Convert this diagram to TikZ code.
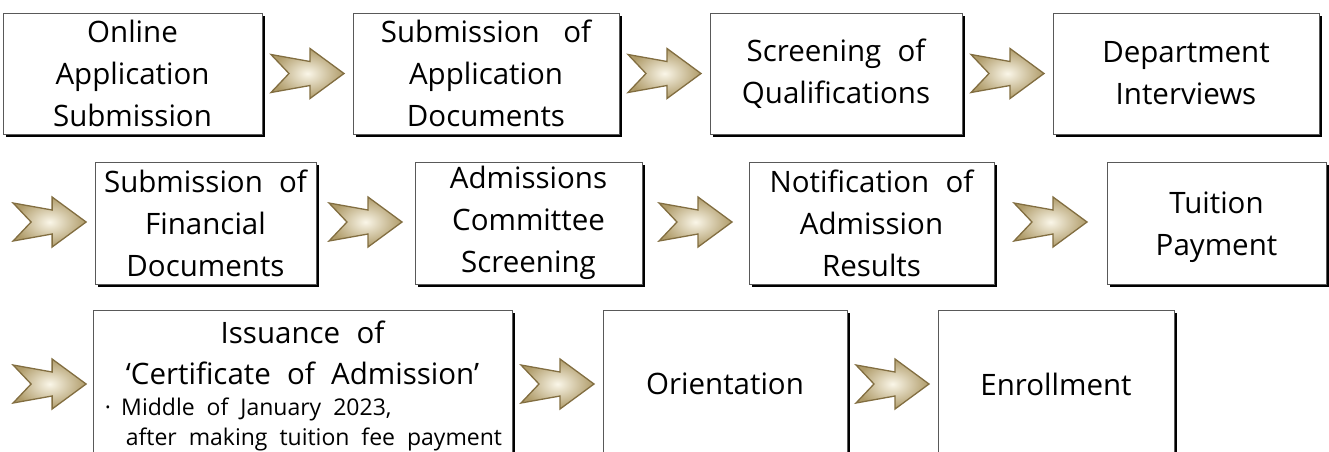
\documentclass[tikz,border=0pt]{standalone}
\usepackage{fontspec}
\setmainfont{Open Sans}
\usetikzlibrary{calc,shadows}
\newcommand{\bigtxt}{\fontsize{29.5}{42}\selectfont\spaceskip=0.55em plus 0.1em\relax}
\newcommand{\smalltxt}{\fontsize{23}{21}\selectfont\spaceskip=0.52em\relax}
\definecolor{arrowedge}{RGB}{130,110,65}
\definecolor{arrowin}{RGB}{250,246,232}
\definecolor{arrowout}{RGB}{175,155,105}
\tikzset{
  x=1pt, y=-1pt,
  stepbox/.style={draw=black!65, line width=0.8pt, fill=white, inner sep=0pt,
    align=center, font=\bigtxt,
    general shadow={fill=black, shadow xshift=2.6pt, shadow yshift=-2.6pt}},
  boxtext/.style={font=\bigtxt, align=center, inner sep=0pt},
  blockarrow/.pic={
    \path[draw=arrowedge, line width=1.3pt, line join=miter,
      inner color=arrowin, outer color=arrowout]
      (-36.5,-19) -- (2.5,-12) -- (2.5,-25) -- (36.5,0) -- (2.5,25)
      -- (2.5,12) -- (-36.5,19) -- (-18.5,0) -- cycle;
  }
}
\begin{document}
\begin{tikzpicture}
\useasboundingbox (0,0) rectangle (1329,451);
\clip (0,0) rectangle (1329,451);
% row 1
\node[stepbox, minimum width=259, minimum height=121] (b1) at (132.5,73.5) {Online\\Application\\Submission};
\node[stepbox, minimum width=266, minimum height=121] (b2) at (486,73.5) {Submission\hspace{0.25em} of\\Application\\Documents};
\node[stepbox, minimum width=252, minimum height=121] (b3) at (836,73.5) {Screening of\\Qualifications};
\node[stepbox, minimum width=266, minimum height=121] (b4) at (1186,73.5) {Department\\Interviews};
% row 2
\node[stepbox, minimum width=221, minimum height=122] (b5) at (205.5,223) {Submission of\\Financial\\Documents};
\node[stepbox, minimum width=227, minimum height=122] (b6) at (528.5,223) {Admissions\\Committee\\Screening};
\node[stepbox, minimum width=245, minimum height=122] (b7) at (871.5,223) {Notification of\\Admission\\Results};
\node[stepbox, minimum width=219, minimum height=122] (b8) at (1216.5,223) {};
\node[boxtext] (t8) at ($(b8.center)+(0,4)$) {Tuition\\Payment};
% row 3
\node[stepbox, minimum width=419, minimum height=148] (b9) at (302.5,384) {};
\node[stepbox, minimum width=244, minimum height=148] (b10) at (725,384) {Orientation};
\node[stepbox, minimum width=236, minimum height=148] (b11) at (1056,384) {Enrollment};
% text of b9
\node[font=\bigtxt, anchor=base, inner sep=0pt] (t1) at ($(b9.north)+(0,34)$) {Issuance of};
\node[font=\bigtxt, anchor=base, inner sep=0pt] (t2) at ($(b9.north)+(0,75)$) {‘Certificate of Admission’};
\node[font=\smalltxt, anchor=base west, inner sep=0pt] (t3) at ($(b9.north west)+(12,106)$) {·\hspace{0.45em}Middle of January 2023,};
\node[font=\smalltxt, anchor=base west, inner sep=0pt] (t4) at ($(b9.north west)+(33,136)$) {after making tuition fee payment};
% arrows
\pic (a1) at ($(b1.east)!0.5!(b2.west)$) {blockarrow};
\pic (a2) at ($(b2.east)!0.5!(b3.west)$) {blockarrow};
\pic (a3) at ($(b3.east)!0.5!(b4.west)$) {blockarrow};
\pic (a4) at ($(b5.west)+(-45,-1)$) {blockarrow};
\pic (a5) at ($(b5.east)!0.5!(b6.west)+(0,-1)$) {blockarrow};
\pic (a6) at ($(b6.east)!0.5!(b7.west)+(0,-1)$) {blockarrow};
\pic (a7) at ($(b7.east)!0.5!(b8.west)+(0,-1)$) {blockarrow};
\pic (a8) at ($(b9.west)+(-43,0)$) {blockarrow};
\pic (a9) at ($(b9.east)!0.5!(b10.west)$) {blockarrow};
\pic (a10) at ($(b10.east)!0.5!(b11.west)$) {blockarrow};
\end{tikzpicture}
\end{document}
